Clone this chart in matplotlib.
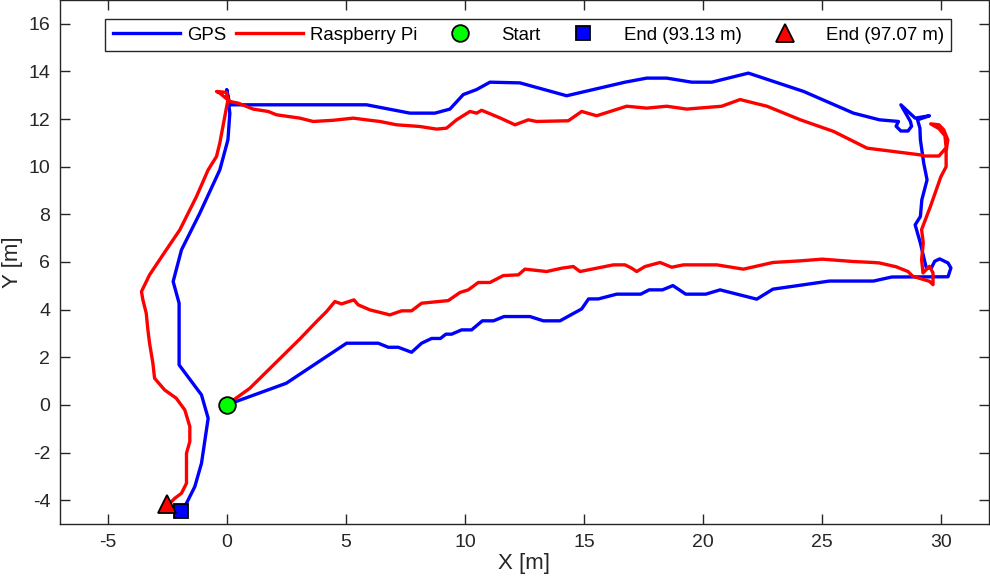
import numpy as np
import matplotlib
matplotlib.use('Agg')
import matplotlib.pyplot as plt

plt.rcParams['font.family'] = ['Liberation Sans', 'DejaVu Sans']
plt.rcParams['axes.unicode_minus'] = False

# GPS-reitti (sininen)
gps_x = [0.0, 2.5, 5.03, 6.36, 6.78, 7.2, 7.76, 8.18, 8.6, 8.97, 9.2, 9.44, 9.86, 10.28,
         10.73, 11.2, 11.64, 12.73, 13.29, 13.99, 14.9, 15.19, 15.6, 16.37, 17.38, 17.73,
         18.29, 18.73, 19.27, 20.11, 20.71, 22.25, 22.93, 25.3, 27.15, 27.92, 30.28, 30.4,
         30.28, 29.93, 29.72, 29.58, 29.37, 29.3, 29.12, 28.9, 29.12, 29.18, 29.4, 29.26,
         29.12, 29.1, 29.0, 29.5, 28.9, 28.3, 28.7, 28.75, 28.6, 28.3, 28.1, 28.2, 27.4,
         26.31, 24.22, 21.9, 20.36, 19.52, 18.47, 17.63, 16.72, 14.27, 12.31, 11.05, 10.49,
         9.93, 9.37, 8.74, 7.69, 5.87, 0.13, 0.0, 0.13, 0.05, -0.29, -1.13, -1.9, -2.25,
         -2.0, -2.0, -1.06, -0.78, -1.06, -1.34, -1.69, -1.9]
gps_y = [0.0, 0.91, 2.59, 2.59, 2.42, 2.42, 2.21, 2.59, 2.79, 2.79, 2.97, 2.97, 3.15, 3.15,
         3.53, 3.53, 3.71, 3.71, 3.53, 3.53, 4.03, 4.45, 4.45, 4.65, 4.65, 4.83,
         4.83, 5.01, 4.65, 4.65, 4.83, 4.44, 4.86, 5.2, 5.2, 5.37, 5.38, 5.75,
         5.96, 6.13, 6.03, 5.75, 5.75, 6.03, 6.79, 7.56, 7.91, 8.61, 9.45, 10.15,
         11.13, 11.62, 11.97, 12.14, 12.04, 12.6, 11.9, 11.7, 11.5, 11.5, 11.7, 11.9, 11.97,
         12.25, 13.16, 13.93, 13.55, 13.55, 13.72, 13.72, 13.55, 12.98, 13.52, 13.55, 13.24,
         13.03, 12.42, 12.25, 12.25, 12.6, 12.6, 13.24, 12.25, 11.13, 9.87, 8.05, 6.51, 5.18,
         4.27, 1.68, 0.42, -0.56, -2.45, -3.43, -4.13, -4.44]

# Raspberry Pi -reitti (punainen)
pi_x = [0.0, 0.97, 3.07, 3.77, 4.19, 4.54, 4.82, 5.34, 5.52, 6.01, 6.85, 7.34, 7.76, 8.18,
        9.3, 9.79, 10.14, 10.56, 11.05, 11.61, 12.24, 12.52, 13.43, 14.06, 14.55, 14.83,
        16.23, 16.72, 17.0, 17.21, 17.56, 18.19, 18.68, 19.17, 20.57, 21.69, 22.93, 24.1,
        25.0, 26.3, 27.15, 27.4, 28.1, 28.6, 28.8, 29.5, 29.65, 29.65, 29.5, 29.23, 29.17,
        29.24, 29.17, 29.54, 29.98, 30.2, 30.2, 30.27, 30.1, 29.9, 29.55, 29.9, 30.15, 30.2,
        29.9, 29.3, 29.1, 26.88, 25.48, 24.08, 22.68, 21.55, 20.78, 19.31, 18.47, 17.63,
        16.79, 15.81, 15.53, 14.9, 14.34, 13.0, 12.66, 12.1, 11.47, 10.7, 10.49, 10.21,
        9.65, 9.23, 8.81, 8.1, 7.13, 6.43, 6.01, 5.31, 4.47, 3.63, 3.07, 2.09, 1.74, 1.11,
        0.48, 0.13, -0.29, -0.43, -0.01, 0.05, -0.08, -0.29, -0.43, -0.78, -1.27, -1.97,
        -2.68, -3.24, -3.58, -3.52, -3.38, -3.31, -3.24, -3.1, -3.03, -2.61, -2.12, -1.76,
        -1.55, -1.55, -1.69, -1.69, -1.9, -2.18, -2.39, -2.52]
pi_y = [0.0, 0.7, 2.77, 3.5, 3.92, 4.34, 4.24, 4.41, 4.2, 3.99, 3.78, 3.95, 3.95, 4.27,
        4.38, 4.72, 4.83, 5.14, 5.14, 5.43, 5.46, 5.7, 5.6, 5.74, 5.81, 5.6,
        5.88, 5.88, 5.74, 5.6, 5.81, 5.98, 5.78, 5.88, 5.88, 5.7, 5.98, 6.05,
        6.12, 6.02, 5.98, 5.96, 5.8, 5.6, 5.4, 5.19, 5.05, 5.54, 5.82, 5.54, 6.1,
        6.8, 7.36, 8.33, 9.58, 10.0, 10.64, 11.13, 11.55, 11.76, 11.8, 11.6, 11.3, 10.8,
        10.45, 10.45, 10.5, 10.78, 11.48, 11.97, 12.54, 12.82, 12.54, 12.42, 12.54, 12.46,
        12.54, 12.23, 12.14, 12.32, 11.93, 11.9, 11.97, 11.76, 12.05, 12.37, 12.25, 12.32,
        11.97, 11.62, 11.58, 11.69, 11.76, 11.9, 11.95, 12.04, 11.95, 11.9, 12.04, 12.18, 12.32, 12.42,
        12.67, 12.74, 13.09, 13.16, 13.12, 12.81, 12.11, 11.0, 10.43, 9.87, 8.75, 7.35,
        6.3, 5.46, 4.76, 4.41, 3.85, 3.15, 2.59, 1.75, 1.12, 0.63, 0.28, -0.21,
        -0.91, -1.54, -2.03, -3.29, -3.71, -3.92, -4.13, -4.15]

gps_len = 93.13
pi_len = 97.07

fig = plt.figure(figsize=(9.9, 5.78), dpi=100)
ax = fig.add_axes([60/990, 54/578, 929/990, 524/578])

ax.plot(gps_x, gps_y, color=(0, 0, 1), lw=2.4, solid_joinstyle='round', label='GPS')
ax.plot(pi_x, pi_y, color=(1, 0, 0), lw=2.4, solid_joinstyle='round', label='Raspberry Pi')
ax.plot(gps_x[0], gps_y[0], 'o', ms=12, mfc=(0, 1, 0), mec='k', mew=1.3, ls='none',
        label='Start', zorder=5)
ax.plot(gps_x[-1], gps_y[-1], 's', ms=10, mfc=(0, 0, 1), mec='k', mew=1.3, ls='none',
        label='End (%.2f m)' % gps_len, zorder=5)
ax.plot(pi_x[-1], pi_y[-1], '^', ms=13, mfc=(1, 0, 0), mec='k', mew=1.3, ls='none',
        label='End (%.2f m)' % pi_len, zorder=5)

ax.set_xlim(-7, 32)
ax.set_ylim(-5, 17)
ax.set_xticks(np.arange(-5, 31, 5))
ax.set_yticks(np.arange(-4, 17, 2))
ax.set_xlabel('X [m]', fontsize=16, labelpad=2, color='#262626')
ax.set_ylabel('Y [m]', fontsize=16, labelpad=4, color='#262626')
ax.tick_params(direction='in', length=7, width=1, top=True, right=True,
               labelsize=14, colors='#262626', pad=7)
for s in ax.spines.values():
    s.set_color('#262626')
    s.set_linewidth(1.0)

leg = ax.legend(loc='upper center', bbox_to_anchor=(0.504, 0.963), ncol=5,
                fontsize=13.4, handlelength=3.6, handletextpad=0.4, columnspacing=0.5,
                borderpad=0.4, borderaxespad=0, fancybox=False, framealpha=1,
                edgecolor='#262626')
leg.get_frame().set_linewidth(1.0)

fig.savefig('out.png', dpi=100)
